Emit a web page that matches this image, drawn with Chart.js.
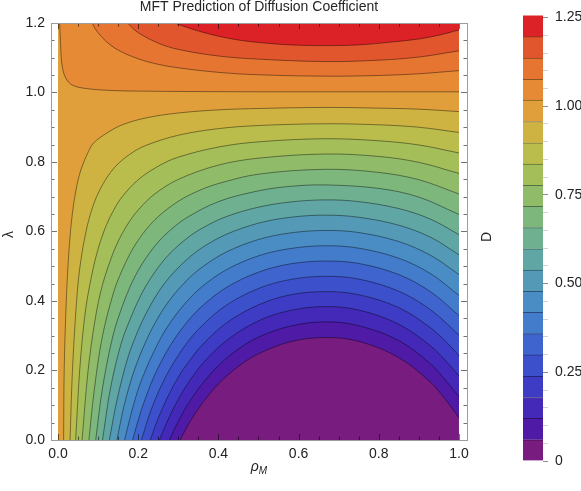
<!DOCTYPE html>
<html>
<head>
<meta charset="utf-8">
<script src="https://cdn.jsdelivr.net/npm/chart.js@4.4.1/dist/chart.umd.min.js"></script>
<style>
  html, body { margin: 0; padding: 0; background: #fff; }
  #wrap { position: relative; width: 581px; height: 491px; }
  #main { position: absolute; left: 0; top: 0; }
  #bar { position: absolute; left: 480px; top: 0; }
</style>
</head>
<body>
<div id="wrap">
  <canvas id="main" width="581" height="491"></canvas>
  <canvas id="bar" width="101" height="491"></canvas>
</div>
<script>
// contour levels of D (20 lines, as on the colour bar)
const levels = [0.060, 0.120, 0.179, 0.239, 0.299, 0.359, 0.419, 0.478, 0.538, 0.598,
                0.658, 0.718, 0.777, 0.837, 0.897, 0.957, 1.017, 1.076, 1.136, 1.196];
const dMin = 0, dMax = 1.256;

const xTicks = [0, 0.2, 0.4, 0.6, 0.8, 1.0];
const yTicks = [0, 0.2, 0.4, 0.6, 0.8, 1.0, 1.2];
const barTicks = [0, 0.25, 0.5, 0.75, 1.0, 1.25];
const barTickLabels = ['0', '0.25', '0.50', '0.75', '1.00', '1.25'];

// contour lines, points are [rho_M, lambda]
const c01 = [[.305,0],[.318,.03],[.333,.06],[.36,.106],[.40,.161],[.45,.212],[.50,.248],[.58,.283],[.667,.295],[.75,.284],[.85,.237],[.93,.165],[.97,.111],[1,.064]];
const c02 = [[.278,0],[.294,.04],[.312,.08],[.33,.114],[.36,.162],[.40,.214],[.45,.262],[.50,.296],[.58,.328],[.667,.340],[.75,.329],[.85,.286],[.93,.218],[.97,.167],[1,.125]];
const c03 = [[.253,0],[.271,.05],[.292,.1],[.32,.156],[.36,.219],[.42,.286],[.50,.343],[.58,.373],[.667,.384],[.75,.374],[.85,.333],[.93,.270],[.97,.224],[1,.184]];
const c04 = [[.230,0],[.249,.06],[.276,.13],[.30,.181],[.32,.216],[.36,.274],[.42,.337],[.50,.389],[.58,.418],[.667,.427],[.75,.418],[.85,.381],[.93,.322],[.97,.280],[1,.243]];
const c05 = [[.208,0],[.23,.08],[.255,.15],[.28,.206],[.32,.277],[.36,.330],[.42,.388],[.50,.436],[.58,.462],[.667,.471],[.75,.463],[.85,.428],[.93,.374],[1,.302]];
const c06 = [[.186,0],[.206,.08],[.231,.16],[.25,.209],[.28,.272],[.32,.337],[.36,.386],[.42,.439],[.50,.483],[.58,.507],[.667,.515],[.75,.508],[.85,.476],[.93,.426],[1,.358]];
const c07 = [[.166,0],[.188,.1],[.21,.178],[.25,.28],[.28,.338],[.32,.397],[.36,.442],[.42,.490],[.50,.530],[.58,.551],[.667,.559],[.75,.552],[.85,.523],[.93,.478],[1,.416]];
const c08 = [[.147,0],[.165,.1],[.19,.2],[.22,.286],[.25,.353],[.28,.405],[.32,.458],[.36,.498],[.42,.541],[.50,.577],[.58,.596],[.667,.603],[.75,.597],[.85,.571],[.93,.531],[1,.476]];
const c09 = [[.128,0],[.148,.12],[.175,.24],[.20,.316],[.22,.365],[.25,.425],[.28,.471],[.32,.518],[.36,.554],[.42,.592],[.50,.624],[.58,.641],[.667,.647],[.75,.641],[.85,.618],[.93,.583],[1,.533]];
const c10 = [[.111,0],[.131,.15],[.158,.28],[.18,.348],[.20,.401],[.22,.445],[.25,.497],[.28,.538],[.32,.579],[.36,.610],[.42,.643],[.50,.670],[.58,.685],[.667,.691],[.75,.686],[.85,.666],[.93,.635],[1,.591]];
const c11 = [[.094,0],[.111,.15],[.137,.3],[.16,.384],[.18,.442],[.20,.488],[.22,.525],[.25,.570],[.28,.604],[.32,.639],[.40,.686],[.50,.717],[.58,.730],[.667,.734],[.80,.724],[.90,.699],[1,.649]];
const c12 = [[.077,0],[.091,.15],[.111,.3],[.14,.43],[.16,.489],[.18,.537],[.20,.575],[.22,.606],[.25,.643],[.30,.687],[.35,.717],[.40,.738],[.50,.765],[.667,.779],[.80,.770],[.90,.749],[1,.708]];
const c13 = [[.060,0],[.075,.2],[.093,.35],[.111,.447],[.14,.546],[.16,.594],[.18,.632],[.20,.662],[.24,.707],[.30,.750],[.40,.791],[.50,.811],[.667,.823],[.80,.816],[.90,.799],[1,.767]];
const c14 = [[.044,0],[.054,.2],[.066,.35],[.079,.445],[.098,.542],[.12,.617],[.14,.664],[.16,.70],[.20,.749],[.25,.788],[.30,.814],[.40,.843],[.50,.858],[.667,.867],[.80,.861],[.90,.849],[1,.826]];
const c15 = [[.030,0],[.036,.2],[.046,.395],[.054,.492],[.068,.59],[.086,.669],[.108,.728],[.14,.783],[.18,.823],[.22,.848],[.30,.877],[.40,.896],[.50,.905],[.667,.910],[.80,.907],[.90,.900],[1,.885]];
const c16 = [[.014,0],[.0154,.2],[.0206,.4],[.0276,.55],[.0357,.65],[.0449,.72],[.0578,.78],[.0759,.83],[.089,.855],[.12,.882],[.16,.907],[.22,.927],[.30,.941],[.40,.950],[.50,.954],[.667,.957],[.80,.955],[.90,.952],[1,.945]];
const c17 = [[.004,1.2],[.006,1.15],[.008,1.1],[.012,1.065],[.018,1.045],[.026,1.03],[.038,1.02],[.06,1.013],[.1,1.008],[.15,1.005],[.2,1.004],[.3,1.003],[.5,1.002],[.667,1.002],[.85,1.002],[1,1.002]];
const c18 = [[.086,1.2],[.09,1.189],[.10,1.172],[.12,1.147],[.15,1.122],[.20,1.097],[.25,1.081],[.30,1.071],[.40,1.058],[.50,1.051],[.667,1.047],[.80,1.049],[.90,1.054],[1,1.063]];
const c19 = [[.174,1.2],[.18,1.192],[.20,1.172],[.25,1.142],[.30,1.124],[.40,1.105],[.50,1.096],[.667,1.089],[.80,1.093],[.90,1.102],[1,1.12]];
const c20 = [[.292,1.2],[.30,1.196],[.35,1.177],[.40,1.162],[.45,1.151],[.50,1.144],[.58,1.137],[.667,1.135],[.75,1.137],[.83,1.145],[.90,1.154],[.95,1.165],[1,1.18]];
const contours = [c01, c02, c03, c04, c05, c06, c07, c08, c09, c10,
                  c11, c12, c13, c14, c15, c16, c17, c18, c19, c20];

// band colours, lowest band first
const bandColors = ['#781c80', '#4e1aa6', '#4428b8', '#3e3bc4', '#3d50cc', '#3f64ce', '#447ccc',
                    '#4a8cc4', '#549ab6', '#60a6a4', '#6eb090', '#7eb77c', '#90bc6a', '#a4be59',
                    '#babd4b', '#cfb342', '#e09f3b', '#e68a36', '#e77532', '#e2562d', '#dc2226'];

const FONT = '"Liberation Sans", Arial, sans-serif';
const TENSION = 0.35;
const pt = p => ({x: p[0], y: p[1]});

// region D >= level: contour closed along the plot edges (end points doubled so edges stay straight)
function region(line) {
  const first = line[0], last = line[line.length - 1];
  const out = [{x: 1, y: 1.2}];
  if (first[1] === 0) out.push({x: 0, y: 1.2}, {x: 0, y: 1.2}, {x: 0, y: 0}, {x: 0, y: 0});
  out.push(pt(first));
  line.forEach(p => out.push(pt(p)));
  out.push(pt(last));
  return out;
}

function shade(hex, k) {
  const n = parseInt(hex.slice(1), 16);
  return `rgb(${Math.round((n >> 16 & 255) * k)},${Math.round((n >> 8 & 255) * k)},${Math.round((n & 255) * k)})`;
}

const datasets = [];
datasets.push({
  data: [{x: 0, y: 0}, {x: 1, y: 0}, {x: 1, y: 1.2}, {x: 0, y: 1.2}],
  showLine: true, fill: 'shape', backgroundColor: bandColors[0],
  borderWidth: 0, borderColor: 'transparent', pointRadius: 0, tension: 0, order: 100
});
contours.forEach((c, i) => datasets.push({
  data: region(c), showLine: true, fill: 'shape', backgroundColor: bandColors[i + 1],
  borderWidth: 0, borderColor: 'transparent', pointRadius: 0, tension: TENSION, order: 99 - i
}));
contours.forEach(c => datasets.push({
  data: c.map(pt), showLine: true, fill: false, borderColor: 'rgba(0,0,0,0.42)',
  borderWidth: 1, pointRadius: 0, tension: TENSION, order: 0
}));

// frame, inward ticks, title and axis labels
const decor = {
  id: 'decor',
  afterDraw(chart) {
    const {ctx, chartArea: a, scales: {x, y}} = chart;
    ctx.save();
    ctx.lineWidth = 1;
    ctx.strokeStyle = 'rgba(0,0,0,0.55)';
    ctx.beginPath();
    for (let i = 0; i <= 20; i++) {
      const px = Math.round(x.getPixelForValue(i * 0.05)) + 0.5;
      const len = i % 4 === 0 ? 6 : 3.5;
      ctx.moveTo(px, a.bottom); ctx.lineTo(px, a.bottom - len);
      ctx.moveTo(px, a.top); ctx.lineTo(px, a.top + len);
    }
    for (let i = 0; i <= 24; i++) {
      const py = Math.round(y.getPixelForValue(i * 0.05)) + 0.5;
      const len = i % 4 === 0 ? 6 : 3.5;
      ctx.moveTo(a.left, py); ctx.lineTo(a.left + len, py);
      ctx.moveTo(a.right, py); ctx.lineTo(a.right - len, py);
    }
    ctx.stroke();
    ctx.strokeStyle = '#9c9c9c';
    ctx.strokeRect(a.left + 0.5, a.top + 0.5, a.right - a.left, a.bottom - a.top);

    const cx = (a.left + a.right) / 2;
    ctx.fillStyle = '#262626';
    ctx.font = `14px ${FONT}`;
    ctx.textAlign = 'center';
    ctx.textBaseline = 'alphabetic';
    ctx.fillText('MFT Prediction of Diffusion Coefficient', cx, 11);

    ctx.save();
    ctx.translate(13, (a.top + a.bottom) / 2 + 3);
    ctx.rotate(-Math.PI / 2);
    ctx.fillText('λ', 0, 0);
    ctx.restore();

    ctx.save();
    ctx.translate(491, 237);
    ctx.rotate(-Math.PI / 2);
    ctx.fillText('D', 0, 0);
    ctx.restore();

    ctx.textAlign = 'left';
    ctx.font = `italic 14px ${FONT}`;
    const wR = ctx.measureText('ρ').width;
    ctx.font = `italic 10px ${FONT}`;
    const wM = ctx.measureText('M').width;
    const x0 = cx - (wR + wM) / 2;
    ctx.font = `italic 14px ${FONT}`;
    ctx.fillText('ρ', x0, 471);
    ctx.font = `italic 10px ${FONT}`;
    ctx.fillText('M', x0 + wR, 474);
    ctx.restore();
  }
};

new Chart(document.getElementById('main'), {
  type: 'scatter',
  data: {datasets},
  options: {
    responsive: false,
    animation: false,
    events: [],
    layout: {padding: {left: 0, right: 114, top: 23, bottom: 0}},
    plugins: {legend: {display: false}, tooltip: {enabled: false}},
    scales: {
      x: {
        type: 'linear', min: -0.0175, max: 1.02,
        afterBuildTicks: s => { s.ticks = xTicks.map(v => ({value: v})); },
        afterFit: s => { s.height = 51; },
        grid: {display: false, drawTicks: false},
        border: {display: false},
        ticks: {callback: v => v.toFixed(1), font: {family: FONT, size: 14}, color: '#222',
                padding: 6, maxRotation: 0, autoSkip: false}
      },
      y: {
        type: 'linear', min: 0, max: 1.2,
        afterBuildTicks: s => { s.ticks = yTicks.map(v => ({value: v})); },
        afterFit: s => { s.width = 51; },
        grid: {display: false, drawTicks: false},
        border: {display: false},
        ticks: {callback: v => v.toFixed(1), font: {family: FONT, size: 14}, color: '#222',
                padding: 6, autoSkip: false}
      }
    }
  },
  plugins: [decor]
});

// colour bar
const bands = bandColors.map((col, i) => ({
  data: [[i === 0 ? dMin : levels[i - 1], i === levels.length ? dMax : levels[i]]],
  backgroundColor: col,
  borderColor: shade(col, 0.6),
  borderWidth: i < levels.length ? {top: 1} : 0,
  borderSkipped: false,
  grouped: false,
  barPercentage: 1,
  categoryPercentage: 1
}));
const isMajor = v => barTicks.some(t => Math.abs(t - v) < 1e-6);

new Chart(document.getElementById('bar'), {
  type: 'bar',
  data: {labels: ['D'], datasets: bands},
  options: {
    responsive: false,
    animation: false,
    events: [],
    layout: {padding: {left: 43, right: 0, top: 5, bottom: 30}},
    plugins: {legend: {display: false}, tooltip: {enabled: false}},
    scales: {
      x: {display: false},
      y: {
        position: 'right', min: dMin, max: dMax,
        afterBuildTicks: s => {
          const t = [];
          for (let i = 0; i <= 25; i++) t.push({value: i * 0.05});
          s.ticks = t;
        },
        afterFit: s => { s.width = 38; },
        grid: {display: true, drawOnChartArea: false, drawTicks: true, tickLength: 5,
               tickColor: c => isMajor(c.tick.value) ? '#8c8c8c' : '#d4d4d4'},
        border: {display: false},
        ticks: {
          callback: v => { const i = barTicks.findIndex(t => Math.abs(t - v) < 1e-6); return i >= 0 ? barTickLabels[i] : ''; },
          font: {family: FONT, size: 14}, color: '#222', padding: 7, autoSkip: false
        }
      }
    }
  }
});
</script>
</body>
</html>
